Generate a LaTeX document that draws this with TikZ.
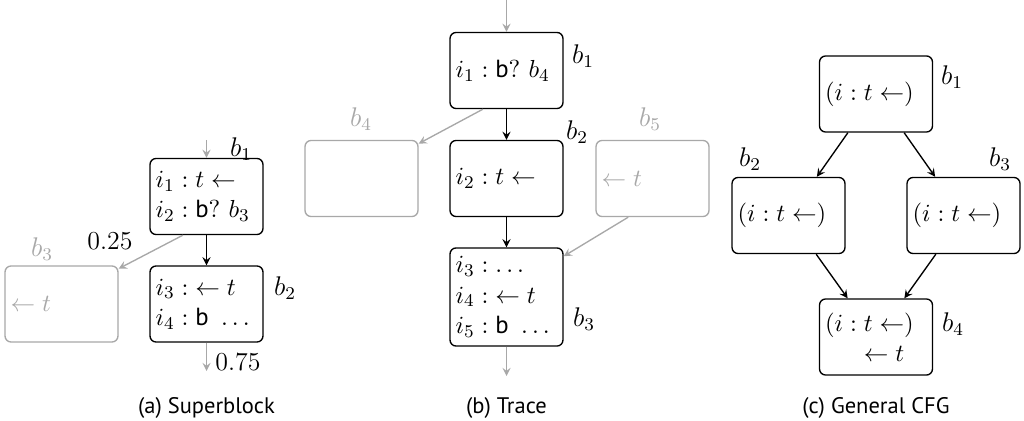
\documentclass[tikz,border=0pt]{standalone}
\usepackage{amsmath}
\usepackage{fontspec}
\setsansfont{PT Sans}
\usepackage{tikz}

\definecolor{ghost}{gray}{0.66}

\tikzset{
  blk/.style={draw,semithick,rounded corners=2.7pt,text width=45.2pt,
    inner xsep=2.5pt,inner ysep=2pt,minimum height=33.8pt,align=left,
    font=\fontsize{11}{13.5}\selectfont},
  gblk/.style={blk,draw=ghost,text=ghost},
  lab/.style={inner sep=0pt,font=\fontsize{11.5}{13.5}\selectfont},
  glab/.style={lab,text=ghost},
  flow/.style={semithick,-stealth},
  gflow/.style={flow,ghost},
  subcap/.style={font=\sffamily}
}

\begin{document}
\begin{tikzpicture}[x=0.4444pt,y=-0.4444pt]
    \useasboundingbox (0,0) rectangle (1024,421);

    % (a) superblock
    \node[blk] (a1) at (206.5,196.5) {\mbox{$i_1 : t \leftarrow$}\\ \mbox{$i_2 : \textsf{b}?\ b_3$}};
    \node[blk] (a2) at (206.5,304) {\mbox{$i_3 : \mathord{\leftarrow}\; t$}\\ \mbox{$i_4 : \textsf{b}\ \ldots$}};
    \node[gblk] (a3) at (61.5,304) {$\leftarrow t$};
    \node[lab] (a1-name) at (241,149) {$b_1$};
    \node[lab] (a2-name) at (285,288) {$b_2$};
    \node[glab] (a3-name) at (42,249) {$b_3$};
    \node[lab] (a-p1) at (110,241) {0.25};
    \node[lab] (a-p2) at (238,362) {0.75};
    \coordinate (a-in) at (206.5,140);
    \coordinate (a-out) at (206.5,371);
    \draw[gflow] (a-in) -- (a1);
    \draw[flow] (a1) -- (a2);
    \draw[gflow] ([xshift=-10.5pt]a1.south) -- ([yshift=-1.5pt]a3.north east);
    \draw[gflow] (a2) -- (a-out);
    \node[subcap] (a-cap) at (206.5,408) {(a) Superblock};

    % (b) trace
    \node[blk] (b1) at (506.5,70.5) {\mbox{$i_1 : \textsf{b}?\ b_4$}};
    \node[blk] (b2) at (506.5,178.5) {$i_2 : t \leftarrow$};
    \node[blk,minimum height=43.6pt] (b3) at (506.5,297) {\mbox{$i_3 : \ldots$}\\ \mbox{$i_4 : \mathord{\leftarrow}\; t$}\\ \mbox{$i_5 : \textsf{b}\ \ldots$}};
    \node[gblk] (b4) at (361.5,178.5) {};
    \node[gblk] (b5) at (652.5,178.5) {$\leftarrow t$};
    \node[lab] (b1-name) at (583,56) {$b_1$};
    \node[lab] (b2-name) at (577,132) {$b_2$};
    \node[lab] (b3-name) at (584,319) {$b_3$};
    \node[glab] (b4-name) at (361,119) {$b_4$};
    \node[glab] (b5-name) at (650,119) {$b_5$};
    \coordinate (b-in) at (506.5,0);
    \coordinate (b-out) at (506.5,376);
    \draw[gflow] (b-in) -- (b1);
    \draw[flow] (b1) -- (b2);
    \draw[flow] (b2) -- (b3);
    \draw[gflow] ([xshift=-10.5pt]b1.south) -- ([yshift=-1.7pt]b4.north east);
    \draw[gflow] ([xshift=-10.8pt]b5.south) -- ([yshift=-4pt]b3.north east);
    \draw[gflow] (b3) -- (b-out);
    \node[subcap] (b-cap) at (506.5,408) {(b) Trace};

    % (c) general CFG
    \node[blk] (c1) at (876,94) {$(i : t \leftarrow)$};
    \node[blk] (c2) at (788.5,215.5) {$(i : t \leftarrow)$};
    \node[blk] (c3) at (963.5,215.5) {$(i : t \leftarrow)$};
    \node[blk] (c4) at (876,337) {\mbox{$(i : t \leftarrow)$}\\ \mbox{$\hphantom{(i :{}}\mathord{\leftarrow}\; t$}};
    \node[lab] (c1-name) at (952,77) {$b_1$};
    \node[lab] (c2-name) at (750,159) {$b_2$};
    \node[lab] (c3-name) at (1000,159) {$b_3$};
    \node[lab] (c4-name) at (953,324) {$b_4$};
    \draw[flow] ([xshift=-12.5pt]c1.south) -- ([xshift=12.6pt]c2.north);
    \draw[flow] ([xshift=12.5pt]c1.south) -- ([xshift=-12.6pt]c3.north);
    \draw[flow] ([xshift=12.3pt]c2.south) -- ([xshift=-12.6pt]c4.north);
    \draw[flow] ([xshift=-12.3pt]c3.south) -- ([xshift=12.6pt]c4.north);
    \node[subcap] (c-cap) at (876,408) {(c) General CFG};

\end{tikzpicture}
\end{document}
